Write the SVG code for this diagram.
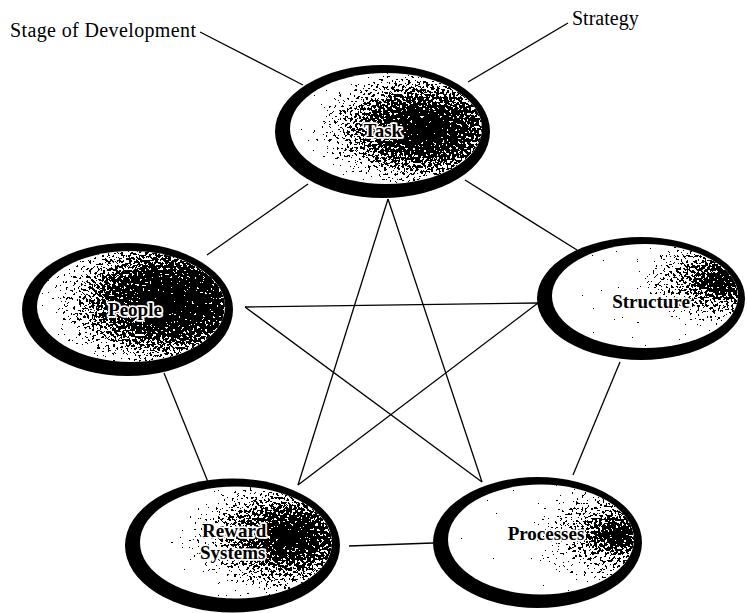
<svg xmlns="http://www.w3.org/2000/svg" width="747" height="613" viewBox="0 0 747 613">
<style>
.rim{fill:#000}
.face{fill:#fff}
.lbl{font-family:"Liberation Serif","Times New Roman",serif;font-weight:bold;font-size:19px;fill:#000;stroke:#fff;stroke-width:3.5px;stroke-linejoin:round;paint-order:stroke}
.note{font-family:"Liberation Serif","Times New Roman",serif;font-size:20px;fill:#000}
.cn line{stroke:#000;stroke-width:1.3;fill:none}
</style>
<defs>
<clipPath id="clipE" clipPathUnits="objectBoundingBox"><ellipse cx="0.5" cy="0.5" rx="0.5" ry="0.5"/></clipPath>
<filter id="stip" x="0" y="0" width="1" height="1" color-interpolation-filters="sRGB">
<feTurbulence type="fractalNoise" baseFrequency="0.38" numOctaves="2" seed="7" result="n"/>
<feColorMatrix in="n" type="matrix" values="0 0 0 0 0  0 0 0 0 0  0 0 0 0 0  1 0 0 0 0" result="na"/>
<feComposite in="SourceGraphic" in2="na" operator="arithmetic" k1="0" k2="1" k3="1.6" k4="-0.8" result="c"/>
<feComponentTransfer in="c"><feFuncA type="discrete" tableValues="0 1"/></feComponentTransfer>
</filter>
<radialGradient id="gT" cx="0.7" cy="0.5" r="0.62"><stop offset="0" stop-color="#000" stop-opacity="0.95"/><stop offset="0.45" stop-color="#000" stop-opacity="0.62"/><stop offset="1" stop-color="#000" stop-opacity="0.03"/></radialGradient>
<radialGradient id="gP" cx="0.72" cy="0.45" r="0.7"><stop offset="0" stop-color="#000" stop-opacity="1"/><stop offset="0.45" stop-color="#000" stop-opacity="0.68"/><stop offset="1" stop-color="#000" stop-opacity="0.05"/></radialGradient>
<radialGradient id="gS" cx="0.92" cy="0.35" r="0.55"><stop offset="0" stop-color="#000" stop-opacity="0.92"/><stop offset="0.35" stop-color="#000" stop-opacity="0.5"/><stop offset="1" stop-color="#000" stop-opacity="0"/></radialGradient>
<radialGradient id="gR" cx="0.78" cy="0.45" r="0.6"><stop offset="0" stop-color="#000" stop-opacity="0.92"/><stop offset="0.4" stop-color="#000" stop-opacity="0.6"/><stop offset="1" stop-color="#000" stop-opacity="0.02"/></radialGradient>
<radialGradient id="gPr" cx="0.92" cy="0.45" r="0.55"><stop offset="0" stop-color="#000" stop-opacity="0.88"/><stop offset="0.35" stop-color="#000" stop-opacity="0.47"/><stop offset="1" stop-color="#000" stop-opacity="0"/></radialGradient>
</defs>
<rect width="747" height="613" fill="#fff"/>

<g id="connectors" class="cn">
<line x1="308" y1="184" x2="207" y2="255"/>
<line x1="465" y1="180" x2="577" y2="250"/>
<line x1="164" y1="373" x2="208" y2="482"/>
<line x1="620" y1="362" x2="573" y2="475"/>
<line x1="349" y1="546" x2="433" y2="543"/>
<line x1="388" y1="199" x2="298" y2="485"/>
<line x1="388" y1="199" x2="482" y2="482"/>
<line x1="245" y1="307" x2="538" y2="303"/>
<line x1="245" y1="307" x2="482" y2="482"/>
<line x1="538" y1="303" x2="298" y2="485"/>
<line x1="200" y1="32" x2="303" y2="85"/>
<line x1="568" y1="23" x2="468" y2="82"/>
</g>

<g id="stage-of-development"><text class="note" x="10" y="37" textLength="186">Stage of Development</text></g>
<g id="strategy"><text class="note" x="572" y="25">Strategy</text></g>

<g id="task">
<ellipse class="rim" cx="382.5" cy="131.5" rx="107.5" ry="66.5"/>
<ellipse class="face" cx="386" cy="128.5" rx="96" ry="55.5"/>
<ellipse cx="386" cy="128.5" rx="96" ry="55.5" fill="url(#gT)" filter="url(#stip)" clip-path="url(#clipE)"/>
<text class="lbl" x="383" y="137" text-anchor="middle">Task</text>
</g>

<g id="people">
<ellipse class="rim" cx="127.5" cy="309.5" rx="105.5" ry="66.5"/>
<ellipse class="face" cx="131" cy="306.5" rx="94" ry="55.5"/>
<ellipse cx="131" cy="306.5" rx="94" ry="55.5" fill="url(#gP)" filter="url(#stip)" clip-path="url(#clipE)"/>
<text class="lbl" x="135" y="316" text-anchor="middle">People</text>
</g>

<g id="structure">
<ellipse class="rim" cx="641" cy="298.5" rx="104" ry="61.5"/>
<ellipse class="face" cx="645" cy="296" rx="93" ry="52"/>
<ellipse cx="645" cy="296" rx="93" ry="52" fill="url(#gS)" filter="url(#stip)" clip-path="url(#clipE)"/>
<text class="lbl" x="651" y="308" text-anchor="middle">Structure</text>
</g>

<g id="reward-systems">
<ellipse class="rim" cx="232.5" cy="545.5" rx="107.5" ry="67"/>
<ellipse class="face" cx="236" cy="542.5" rx="96" ry="56"/>
<ellipse cx="236" cy="542.5" rx="96" ry="56" fill="url(#gR)" filter="url(#stip)" clip-path="url(#clipE)"/>
<text class="lbl" x="202" y="537" font-size="17">Reward</text>
<text class="lbl" x="200" y="559" font-size="17">Systems</text>
</g>

<g id="processes">
<ellipse class="rim" cx="537.5" cy="542.5" rx="104.5" ry="65.5"/>
<ellipse class="face" cx="541" cy="539.5" rx="93" ry="55"/>
<ellipse cx="541" cy="539.5" rx="93" ry="55" fill="url(#gPr)" filter="url(#stip)" clip-path="url(#clipE)"/>
<text class="lbl" x="546" y="540" text-anchor="middle">Processes</text>
</g>
</svg>
